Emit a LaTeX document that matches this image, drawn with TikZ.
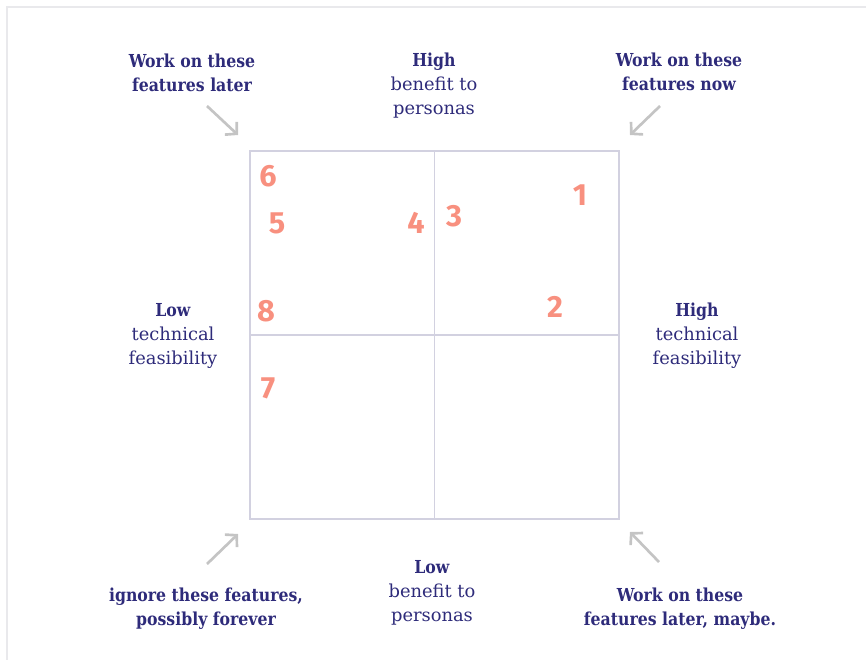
\documentclass[tikz,border=0pt]{standalone}
\usepackage{fontspec}
\setmainfont{DejaVu Serif}[BoldFeatures={FakeStretch=0.88}]
\newfontfamily\numfont{Fira Sans}
\usetikzlibrary{arrows.meta}
\definecolor{ink}{HTML}{2E2B7A}
\definecolor{salmon}{HTML}{F8907F}
\definecolor{gridline}{HTML}{D2D1E0}
\definecolor{pointer}{HTML}{C4C4C4}
\definecolor{frame}{HTML}{E9E9EC}
\tikzset{
  lbl/.style={text=ink, align=center, font=\fontsize{13.4pt}{18pt}\selectfont, inner sep=0pt},
  note/.style={lbl, font=\bfseries\fontsize{13.4pt}{18pt}\selectfont},
  num/.style={text=salmon, font=\numfont\bfseries\fontsize{23pt}{23pt}\selectfont, inner sep=0pt},
  pointerarrow/.style={draw=pointer, line width=2pt, -{Straight Barb[length=6pt,width=13pt,line width=2pt]}},
  quad/.style={draw=gridline, line width=1pt}
}
\begin{document}
\begin{tikzpicture}[x=0.75pt,y=-0.75pt]
\useasboundingbox (0,0) rectangle (866,660);
% outer frame
\draw[frame, line width=1.2pt] (7,660) -- (7,7) -- (866,7);
% quadrant grid
\node[quad, minimum width=276.75pt, minimum height=276pt, inner sep=0pt] (box) at (434.5,335) {};
\draw[quad] (box.north) -- (box.south);
\draw[quad] (box.west) -- (box.east);
% axis labels
\node[lbl] (topaxis) at (434,86) {\textbf{High}\\benefit to\\personas};
\node[lbl] (botaxis) at (432,593) {\textbf{Low}\\benefit to\\personas};
\node[lbl] (leftaxis) at (173,336) {\textbf{Low}\\technical\\feasibility};
\node[lbl] (rightaxis) at (697,336) {\textbf{High}\\technical\\feasibility};
% corner notes
\node[note] (tl) at (192,73) {Work on these\\features later};
\node[note] (tr) at (679,72) {Work on these\\features now};
\node[note] (bl) at (206,609) {ignore these features,\\possibly forever};
\node[note] (br) at (680,609) {Work on these\\features later, maybe.};
% pointers toward the corners
\coordinate (tlA) at (207,106); \coordinate (tlB) at (238,135);
\coordinate (trA) at (660,106); \coordinate (trB) at (630,135);
\coordinate (blA) at (207,564); \coordinate (blB) at (238,534);
\coordinate (brA) at (659,562); \coordinate (brB) at (630,532);
\draw[pointerarrow] (tlA) -- (tlB);
\draw[pointerarrow] (trA) -- (trB);
\draw[pointerarrow] (blA) -- (blB);
\draw[pointerarrow] (brA) -- (brB);
% feature numbers
\node[num] (n1) at (580,195) {1};
\node[num] (n2) at (555,307) {2};
\node[num] (n3) at (454,216) {3};
\node[num] (n4) at (416,223) {4};
\node[num] (n5) at (277,223) {5};
\node[num] (n6) at (268,176) {6};
\node[num] (n7) at (268,388) {7};
\node[num] (n8) at (266,311) {8};
\end{tikzpicture}
\end{document}
